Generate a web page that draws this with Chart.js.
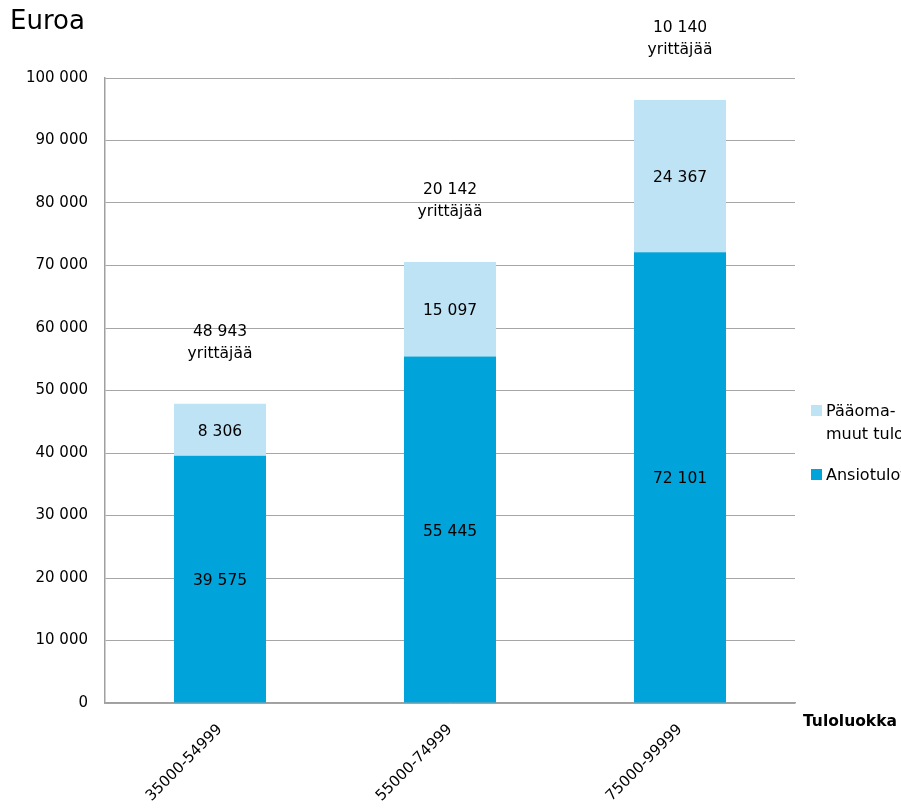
<!DOCTYPE html>
<html>
<head>
<meta charset="utf-8">
<script src="https://cdn.jsdelivr.net/npm/chart.js@4"></script>
<style>
  html, body { margin: 0; padding: 0; background: #fff; }
  #wrap { width: 901px; height: 808px; position: relative; }
</style>
</head>
<body>
<div id="wrap"><canvas id="myChart"></canvas></div>
<script>
// data
const categories = ['35000-54999', '55000-74999', '75000-99999'];
const ansiotulot = [39575, 55445, 72101];
const paaomatulot = [8306, 15097, 24367];
const yrittajat = ['48 943', '20 142', '10 140'];
const yTicks = [0, 10000, 20000, 30000, 40000, 50000, 60000, 70000, 80000, 90000, 100000];

const FONT = '"DejaVu Sans", Verdana, sans-serif';
const DARK = 'rgb(0, 163, 218)';
const LIGHT = 'rgb(190, 227, 245)';

function fmt(v) {
    return String(v).replace(/\B(?=(\d{3})+(?!\d))/g, ' ');
}

// labels inside and above the bars, title, legend
const extrasPlugin = {
    id: 'extras',
    afterDatasetsDraw(chart) {
        const ctx = chart.ctx;
        ctx.save();
        ctx.fillStyle = '#000';
        ctx.textAlign = 'center';
        ctx.textBaseline = 'middle';
        ctx.font = '15.5px ' + FONT;
        chart.data.datasets.forEach(function (ds, i) {
            const meta = chart.getDatasetMeta(i);
            meta.data.forEach(function (bar, j) {
                const mid = (bar.y + bar.base) / 2;
                ctx.fillText(fmt(ds.data[j]), bar.x, mid + 2);
            });
        });
        // yrittäjää labels above stack
        const top = chart.getDatasetMeta(1);
        top.data.forEach(function (bar, j) {
            ctx.fillText(yrittajat[j], bar.x, bar.y - 72);
            ctx.fillText('yrittäjää', bar.x, bar.y - 50);
        });

        // title
        ctx.textAlign = 'left';
        ctx.font = '26px ' + FONT;
        ctx.fillText('Euroa', 10, 22);

        // x axis title
        ctx.font = 'bold 15.5px ' + FONT;
        ctx.fillText('Tuloluokka', 803, 722);

        // legend (clipped at right edge like the original)
        ctx.font = '16px ' + FONT;
        ctx.fillStyle = LIGHT;
        ctx.fillRect(811, 405, 11, 11);
        ctx.fillStyle = '#000';
        ctx.fillText('Pääoma-', 826, 412);
        ctx.fillText('muut tulot', 826, 435);
        ctx.fillStyle = DARK;
        ctx.fillRect(811, 469, 11, 11);
        ctx.fillStyle = '#000';
        ctx.fillText('Ansiotulot', 826, 476);
        ctx.restore();
    }
};

const data = {
    labels: categories,
    datasets: [{
        label: 'Ansiotulot',
        data: ansiotulot,
        backgroundColor: DARK,
        barPercentage: 0.4,
        categoryPercentage: 1.0
    }, {
        label: 'Pääoma- ja muut tulot',
        data: paaomatulot,
        backgroundColor: LIGHT,
        barPercentage: 0.4,
        categoryPercentage: 1.0
    }]
};

const config = {
    type: 'bar',
    data,
    options: {
        responsive: true,
        maintainAspectRatio: false,
        animation: false,
        layout: {
            padding: { top: 78, right: 106, left: 0, bottom: 0 }
        },
        plugins: {
            legend: { display: false },
            tooltip: { enabled: false }
        },
        scales: {
            x: {
                stacked: true,
                grid: { display: false, drawTicks: false },
                border: { color: '#a0a0a0', width: 1.5 },
                ticks: {
                    color: '#000',
                    font: { family: FONT, size: 15 },
                    minRotation: 45,
                    maxRotation: 45,
                    padding: 18
                },
                afterFit(scale) { scale.height = 105; }
            },
            y: {
                stacked: true,
                min: 0,
                max: 100000,
                afterBuildTicks(scale) {
                    scale.ticks = yTicks.map(function (v) { return { value: v }; });
                },
                grid: { color: '#a6a6a6', lineWidth: 1, drawTicks: false },
                border: { color: '#a0a0a0', width: 1.5 },
                ticks: {
                    color: '#000',
                    font: { family: FONT, size: 15 },
                    padding: 17,
                    callback: function (v) { return fmt(v); }
                },
                afterFit(scale) { scale.width = 105; }
            }
        }
    },
    plugins: [extrasPlugin]
};

const myChart = new Chart(document.getElementById('myChart'), config);
</script>
</body>
</html>
